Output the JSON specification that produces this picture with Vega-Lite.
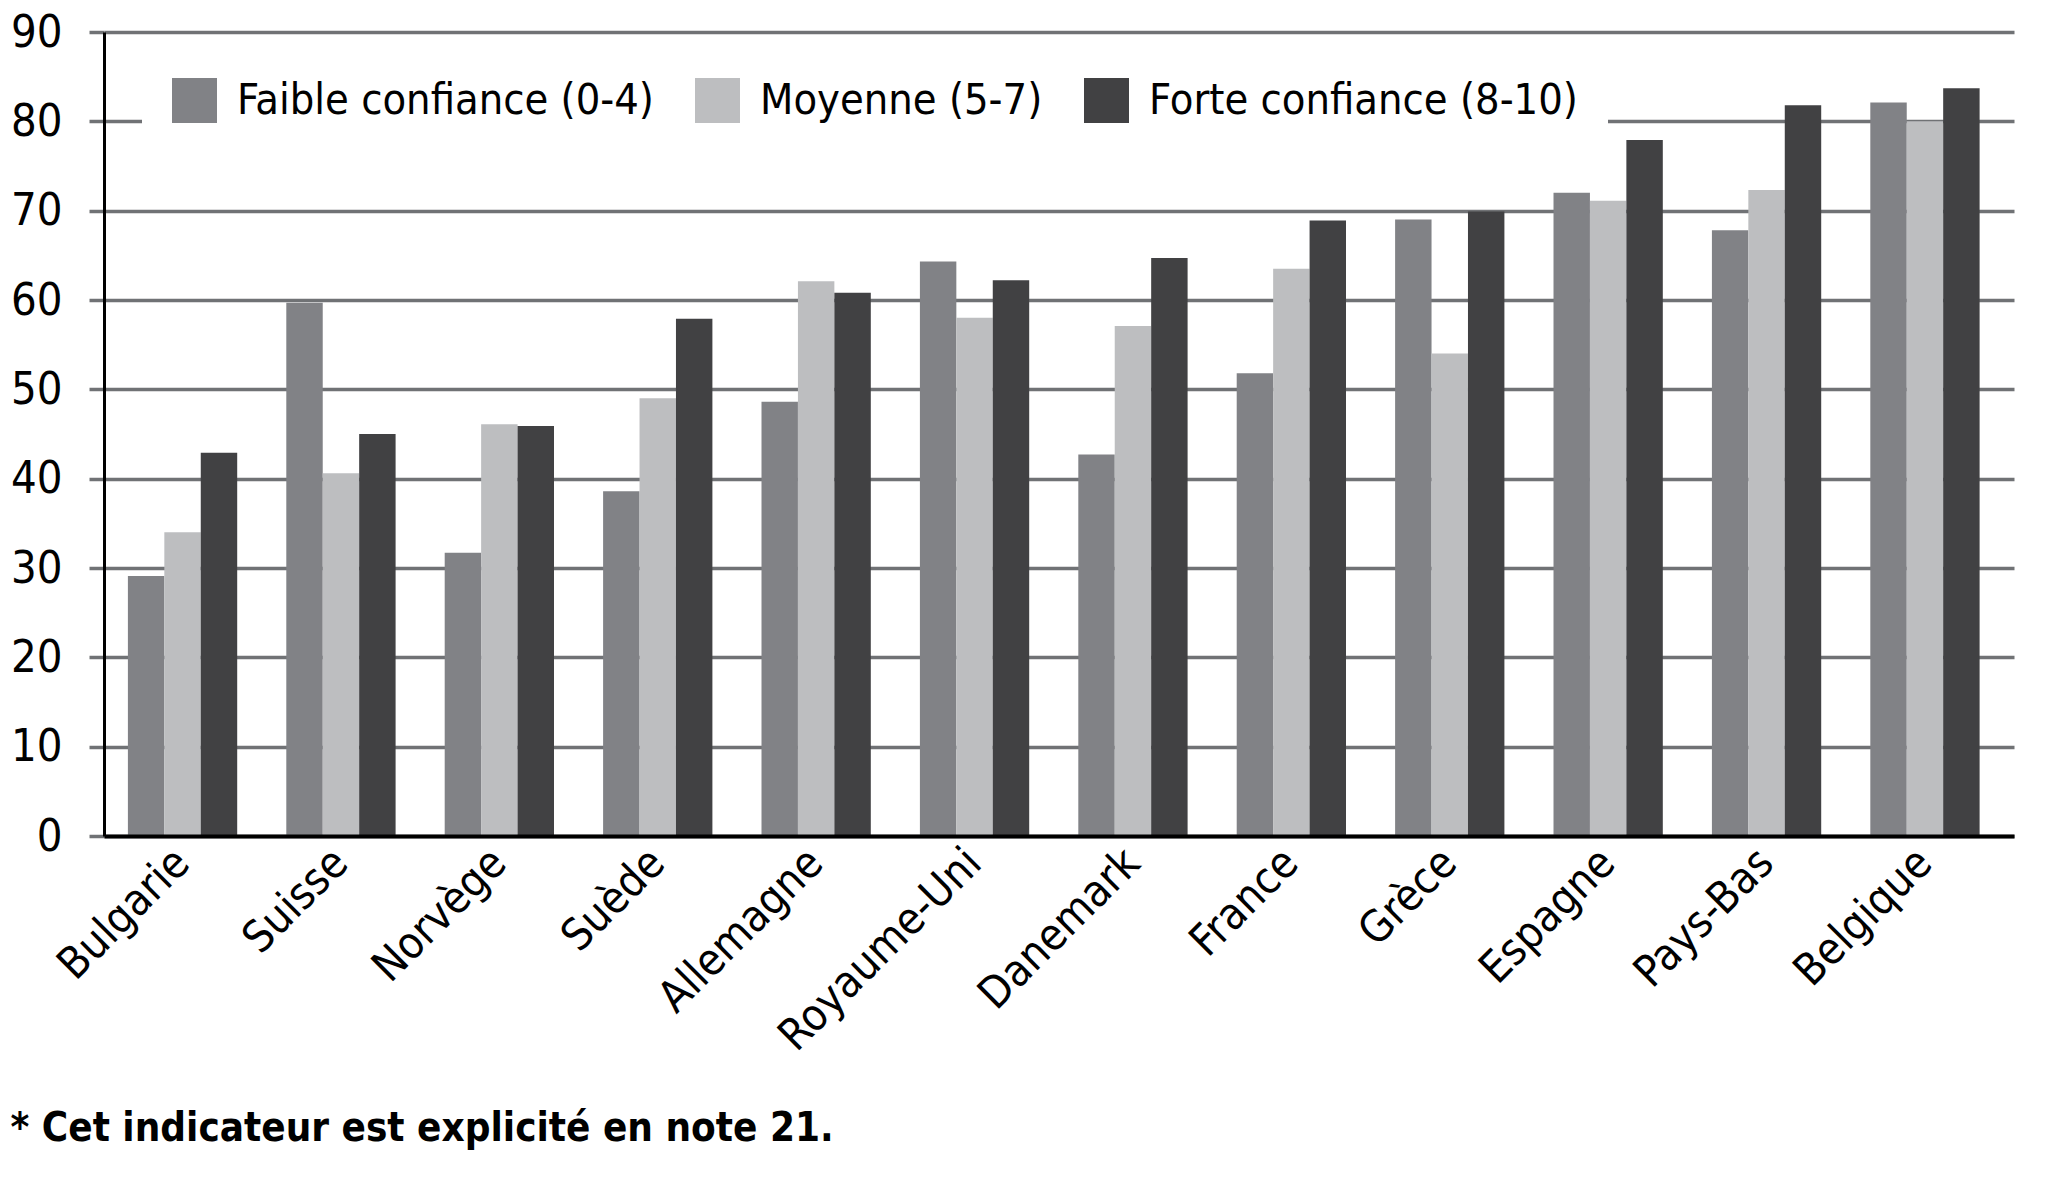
{
  "$schema": "https://vega.github.io/schema/vega-lite/v6.json",
  "width": 1910,
  "height": 804,
  "autosize": {"type": "none"},
  "padding": {"left": 104, "top": 32, "right": 38, "bottom": 352},
  "background": "white",
  "title": {
    "text": "* Cet indicateur est explicité en note 21.",
    "orient": "bottom",
    "anchor": "start",
    "frame": "bounds",
    "font": "DejaVu Sans Condensed",
    "fontSize": 40,
    "fontWeight": "bold",
    "color": "black",
    "offset": 50
  },
  "config": {
    "view": {"stroke": null},
    "font": "DejaVu Sans Condensed"
  },
  "data": {
    "values": [
      {"pays": "Bulgarie", "groupe": "Faible confiance (0-4)", "valeur": 29.1},
      {"pays": "Bulgarie", "groupe": "Moyenne (5-7)", "valeur": 34.0},
      {"pays": "Bulgarie", "groupe": "Forte confiance (8-10)", "valeur": 42.9},
      {"pays": "Suisse", "groupe": "Faible confiance (0-4)", "valeur": 59.7},
      {"pays": "Suisse", "groupe": "Moyenne (5-7)", "valeur": 40.6},
      {"pays": "Suisse", "groupe": "Forte confiance (8-10)", "valeur": 45.0},
      {"pays": "Norvège", "groupe": "Faible confiance (0-4)", "valeur": 31.7},
      {"pays": "Norvège", "groupe": "Moyenne (5-7)", "valeur": 46.1},
      {"pays": "Norvège", "groupe": "Forte confiance (8-10)", "valeur": 45.9},
      {"pays": "Suède", "groupe": "Faible confiance (0-4)", "valeur": 38.6},
      {"pays": "Suède", "groupe": "Moyenne (5-7)", "valeur": 49.0},
      {"pays": "Suède", "groupe": "Forte confiance (8-10)", "valeur": 57.9},
      {"pays": "Allemagne", "groupe": "Faible confiance (0-4)", "valeur": 48.6},
      {"pays": "Allemagne", "groupe": "Moyenne (5-7)", "valeur": 62.1},
      {"pays": "Allemagne", "groupe": "Forte confiance (8-10)", "valeur": 60.8},
      {"pays": "Royaume-Uni", "groupe": "Faible confiance (0-4)", "valeur": 64.3},
      {"pays": "Royaume-Uni", "groupe": "Moyenne (5-7)", "valeur": 58.0},
      {"pays": "Royaume-Uni", "groupe": "Forte confiance (8-10)", "valeur": 62.2},
      {"pays": "Danemark", "groupe": "Faible confiance (0-4)", "valeur": 42.7},
      {"pays": "Danemark", "groupe": "Moyenne (5-7)", "valeur": 57.1},
      {"pays": "Danemark", "groupe": "Forte confiance (8-10)", "valeur": 64.7},
      {"pays": "France", "groupe": "Faible confiance (0-4)", "valeur": 51.8},
      {"pays": "France", "groupe": "Moyenne (5-7)", "valeur": 63.5},
      {"pays": "France", "groupe": "Forte confiance (8-10)", "valeur": 68.9},
      {"pays": "Grèce", "groupe": "Faible confiance (0-4)", "valeur": 69.0},
      {"pays": "Grèce", "groupe": "Moyenne (5-7)", "valeur": 54.0},
      {"pays": "Grèce", "groupe": "Forte confiance (8-10)", "valeur": 69.9},
      {"pays": "Espagne", "groupe": "Faible confiance (0-4)", "valeur": 72.0},
      {"pays": "Espagne", "groupe": "Moyenne (5-7)", "valeur": 71.1},
      {"pays": "Espagne", "groupe": "Forte confiance (8-10)", "valeur": 77.9},
      {"pays": "Pays-Bas", "groupe": "Faible confiance (0-4)", "valeur": 67.8},
      {"pays": "Pays-Bas", "groupe": "Moyenne (5-7)", "valeur": 72.3},
      {"pays": "Pays-Bas", "groupe": "Forte confiance (8-10)", "valeur": 81.8},
      {"pays": "Belgique", "groupe": "Faible confiance (0-4)", "valeur": 82.1},
      {"pays": "Belgique", "groupe": "Moyenne (5-7)", "valeur": 80.0},
      {"pays": "Belgique", "groupe": "Forte confiance (8-10)", "valeur": 83.7}
    ]
  },
  "mark": {"type": "bar"},
  "encoding": {
    "x": {
      "field": "pays",
      "type": "nominal",
      "sort": null,
      "scale": {"paddingInner": 0.31, "paddingOuter": 0.184, "align": 0.41},
      "axis": {
        "title": null,
        "labelAngle": -45,
        "labelAlign": "right",
        "labelBaseline": "middle",
        "labelFont": "DejaVu Sans Condensed",
        "labelFontSize": 44,
        "labelColor": "black",
        "labelPadding": 20,
        "labelLimit": 0,
        "ticks": false,
        "domainColor": "black",
        "domainWidth": 4,
        "zindex": 1
      }
    },
    "xOffset": {
      "field": "groupe",
      "type": "nominal",
      "sort": ["Faible confiance (0-4)", "Moyenne (5-7)", "Forte confiance (8-10)"],
      "scale": {"paddingInner": 0, "paddingOuter": 0}
    },
    "y": {
      "field": "valeur",
      "type": "quantitative",
      "scale": {"domain": [0, 90], "nice": false},
      "axis": {
        "title": null,
        "values": [0, 10, 20, 30, 40, 50, 60, 70, 80, 90],
        "labelFont": "DejaVu Sans Condensed",
        "labelFontSize": 45,
        "labelColor": "black",
        "labelPadding": 27,
        "tickSize": 15,
        "tickWidth": 3.5,
        "tickColor": "#707275",
        "gridColor": "#707275",
        "gridWidth": 3.5,
        "gridOpacity": 1,
        "domainColor": "black",
        "domainWidth": 3
      }
    },
    "color": {
      "field": "groupe",
      "type": "nominal",
      "scale": {
        "domain": ["Faible confiance (0-4)", "Moyenne (5-7)", "Forte confiance (8-10)"],
        "range": ["#818286", "#bdbec0", "#414143"]
      },
      "legend": {
        "title": null,
        "orient": "none",
        "legendX": 38,
        "legendY": 16,
        "direction": "horizontal",
        "columns": 3,
        "symbolType": "square",
        "symbolSize": 2025,
        "symbolStrokeWidth": 0,
        "symbolOpacity": 1,
        "labelFont": "DejaVu Sans Condensed",
        "labelFontSize": 43,
        "labelColor": "black",
        "labelOffset": 20,
        "labelLimit": 0,
        "columnPadding": 41,
        "padding": 30,
        "fillColor": "white",
        "zindex": 2
      }
    }
  }
}
